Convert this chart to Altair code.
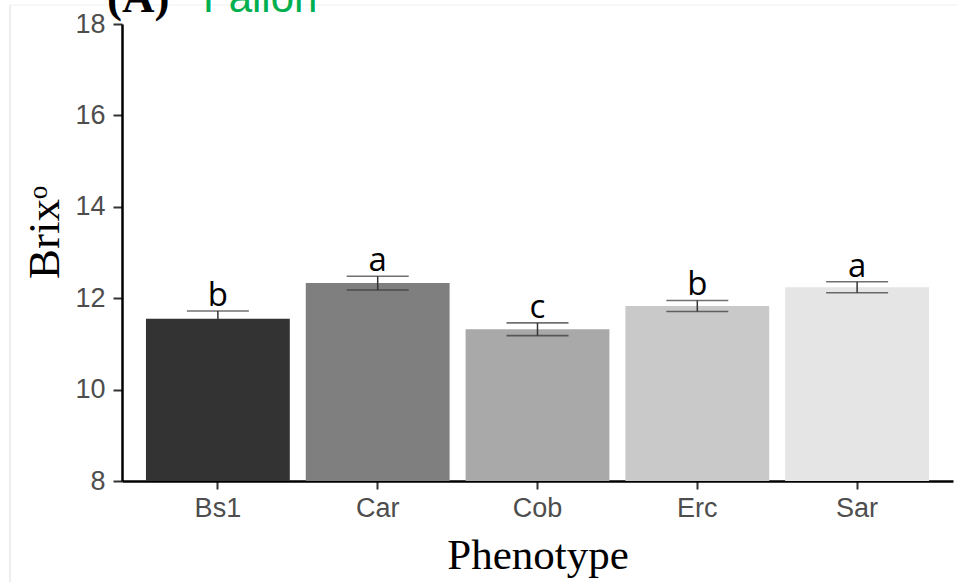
import altair as alt
import pandas as pd

# Brix by phenotype (mean ± SE) with significance letters
phenotypes = ["Bs1", "Car", "Cob", "Erc", "Sar"]
brix_mean = [11.55, 12.33, 11.32, 11.83, 12.24]
brix_se = [0.17, 0.15, 0.14, 0.12, 0.12]
letters = ["b", "a", "c", "b", "a"]
fills = ["#333333", "#7f7f7f", "#a9a9a9", "#c9c9c9", "#e5e5e5"]

df = pd.DataFrame({
    "Phenotype": phenotypes,
    "Brix": brix_mean,
    "lo": [m - s for m, s in zip(brix_mean, brix_se)],
    "hi": [m + s for m, s in zip(brix_mean, brix_se)],
    "letter": letters,
})

W, H = 831, 457

x = alt.X(
    "Phenotype:N",
    sort=phenotypes,
    scale=alt.Scale(paddingInner=0.1, paddingOuter=0.15),
    axis=alt.Axis(
        title="Phenotype", titleFont="Liberation Serif", titleFontSize=43,
        titleFontWeight="normal", titleColor="#000000", titlePadding=13,
        labelFont="Liberation Sans", labelFontSize=27, labelColor="#4d4d4d",
        labelPadding=6, labelAngle=0,
        domainColor="#000000", domainWidth=2.5, tickColor="#333333",
        tickWidth=2, tickSize=8,
    ),
)
y_scale = alt.Scale(domain=[8, 18], nice=False, zero=False)

bars = alt.Chart(df).mark_bar(clip=True).encode(
    x=x,
    y=alt.Y(
        "Brix:Q", scale=y_scale,
        axis=alt.Axis(
            title="Brixᵒ", values=[8, 10, 12, 14, 16, 18],
            titleFont="Liberation Serif", titleFontSize=45,
            titleFontWeight="normal", titleColor="#000000",
            titleX=-78, titleY=208, titleBaseline="middle", titleAlign="center",
            labelFont="Liberation Sans", labelFontSize=27, labelColor="#4d4d4d",
            labelPadding=8, grid=False,
            domainColor="#000000", domainWidth=2.5, tickColor="#333333",
            tickWidth=2, tickSize=9,
        ),
    ),
    y2=alt.datum(8),
    color=alt.Color("Phenotype:N", sort=phenotypes,
                    scale=alt.Scale(domain=phenotypes, range=fills), legend=None),
)

stems = alt.Chart(df).mark_rule(color="#333333", strokeWidth=1.5).encode(
    x=alt.X("Phenotype:N", sort=phenotypes),
    y=alt.Y("lo:Q", scale=y_scale),
    y2="hi:Q",
)

caps_hi = alt.Chart(df).mark_tick(color="#333333", thickness=1.6, size=62).encode(
    x=alt.X("Phenotype:N", sort=phenotypes),
    y=alt.Y("hi:Q", scale=y_scale),
)
caps_lo = alt.Chart(df).mark_tick(color="#333333", thickness=1.6, size=62).encode(
    x=alt.X("Phenotype:N", sort=phenotypes),
    y=alt.Y("lo:Q", scale=y_scale),
)

labels = alt.Chart(df).mark_text(
    font="Open Sans", fontSize=33, color="#000000", baseline="alphabetic", dy=-5
).encode(
    x=alt.X("Phenotype:N", sort=phenotypes),
    y=alt.Y("hi:Q", scale=y_scale),
    text="letter:N",
)

panel = alt.Chart(pd.DataFrame({"t": ["(A)"]})).mark_text(
    font="Liberation Serif", fontSize=45, fontWeight="bold", color="#000000",
    align="left", baseline="alphabetic",
).encode(x=alt.value(-15), y=alt.value(-12), text="t:N")

site = alt.Chart(pd.DataFrame({"t": ["Fallon"]})).mark_text(
    font="Liberation Sans", fontSize=42, color="#00b050",
    align="left", baseline="alphabetic",
).encode(x=alt.value(81), y=alt.value(-12), text="t:N")

frame_top = alt.Chart(pd.DataFrame({"a": [0]})).mark_rule(
    color="#f0f0f0", strokeWidth=1
).encode(x=alt.value(-112), x2=alt.value(W + 5), y=alt.value(-19))
frame_left = alt.Chart(pd.DataFrame({"a": [0]})).mark_rule(
    color="#dcdcdc", strokeWidth=1
).encode(x=alt.value(-112), y=alt.value(-19), y2=alt.value(H + 101))

chart = alt.layer(
    frame_top, frame_left, bars, stems, caps_hi, caps_lo, labels, panel, site
).properties(
    width=W, height=H,
    autosize=alt.AutoSizeParams(type="none"),
    padding={"left": 122, "top": 24, "right": 5, "bottom": 101},
).configure(background="#ffffff").configure_view(stroke=None)

chart.save("out.html", embed_options={"renderer": "svg", "actions": False})
